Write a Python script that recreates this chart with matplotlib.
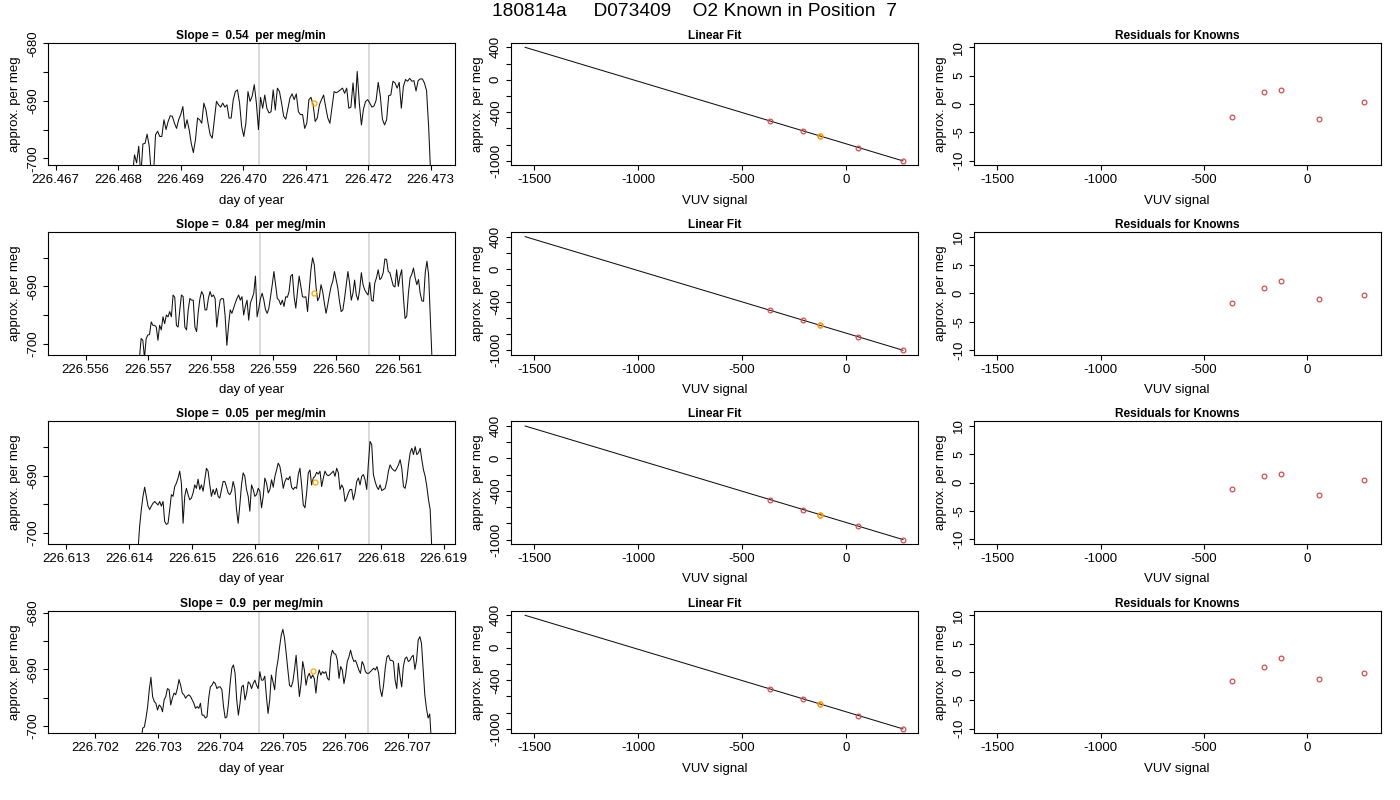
import numpy as np
import matplotlib.pyplot as plt

plt.rcParams['font.family'] = ['Liberation Sans', 'DejaVu Sans']

title = '180814a     D073409    O2 Known in Position  7'
slopes = ['0.54', '0.84', '0.05', '0.9']

# time window of each trace (day of year)
t_start = [226.46823, 226.55686, 226.61414, 226.70273]
t_end = [226.47300, 226.56153, 226.61881, 226.70738]
x_lims = [(226.46688, 226.47338), (226.55540, 226.56189),
          (226.61271, 226.61917), (226.70124, 226.70775)]
y_lims = [(-701.2, -679.9), (-701.9, -680.5), (-701.9, -680.5), (-701.3, -679.6)]
x_ticks = [[226.467, 226.468, 226.469, 226.470, 226.471, 226.472, 226.473],
           [226.556, 226.557, 226.558, 226.559, 226.560, 226.561],
           [226.613, 226.614, 226.615, 226.616, 226.617, 226.618, 226.619],
           [226.702, 226.703, 226.704, 226.705, 226.706, 226.707]]
marks = [(226.47026, 226.47202), (226.55878, 226.56053),
         (226.61607, 226.61781), (226.70462, 226.70637)]
unknown_t = [226.47113, 226.55965, 226.61695, 226.70549]
unknown_y = [-690.46, -691.2, -691.05, -690.35]

trace_1 = [-703, -699.4, -700.8, -697.9, -703, -697.5, -697.4, -695.8, -697.9, -703, -703, -695.9,
           -695.3, -696.2, -696.2, -693.3, -695.0, -693.6, -692.6, -692.7, -693.9, -694.8, -693.3,
           -692.4, -691.0, -694.8, -693.3, -695.0, -697.4, -699.0, -696.8, -693.0, -693.3, -693.9,
           -690.4, -691.6, -693.9, -695.9, -696.5, -693.3, -690.1, -690.7, -691.1, -690.4, -691.1,
           -690.7, -693.0, -693.0, -689.8, -688.4, -688.1, -690.4, -694.5, -696.2, -693.9, -688.4,
           -690.1, -689.2, -687.2, -690.4, -695.0, -689.4, -691.3, -689.0, -691.3, -692.1, -691.9,
           -688.1, -691.6, -687.8, -688.4, -690.4, -692.7, -693.2, -691.3, -689.5, -688.8, -689.8,
           -688.8, -691.9, -692.4, -692.4, -694.8, -693.9, -689.8, -689.4, -690.7, -693.6, -693.0,
           -690.7, -689.8, -689.0, -691.1, -693.0, -693.9, -691.1, -688.4, -688.6, -688.4, -688.1,
           -687.8, -688.7, -687.8, -691.3, -691.1, -686.9, -691.3, -684.9, -690.4, -694.2, -691.4,
           -690.1, -689.8, -690.4, -691.1, -690.9, -689.9, -686.8, -689.2, -693.2, -694.2, -693.3,
           -689.1, -689.0, -686.6, -686.9, -687.8, -686.8, -691.3, -687.5, -686.3, -686.6, -686.1,
           -686.6, -686.5, -688.3, -686.5, -686.2, -686.2, -686.9, -688.2, -694.5, -703]
trace_2 = [-702.5, -699.1, -699.4, -702.5, -699.1, -698.5, -698.4, -696.2, -696.8, -696.8, -697.1,
           -699.4, -696.8, -697.6, -695.3, -696.5, -695.0, -695.3, -694.4, -695.3, -691.5, -691.9,
           -696.8, -697.1, -694.1, -691.5, -691.8, -697.1, -697.6, -694.1, -692.1, -692.4, -692.4,
           -697.1, -697.9, -694.4, -692.1, -690.9, -691.5, -694.1, -694.1, -692.1, -690.9, -691.8,
           -691.5, -692.1, -697.1, -694.4, -692.4, -692.1, -692.2, -695.3, -700.3, -696.8, -694.1,
           -694.7, -693.8, -692.9, -692.1, -691.5, -692.4, -691.8, -695.0, -693.5, -692.4, -695.9,
           -692.9, -692.1, -691.2, -688.2, -695.3, -693.8, -692.1, -691.2, -692.4, -694.1, -694.7,
           -693.8, -691.8, -689.7, -687.4, -689.7, -692.1, -692.4, -693.2, -692.4, -693.5, -691.8,
           -691.9, -690.9, -688.2, -687.9, -691.8, -693.8, -690.9, -688.2, -690.0, -691.8, -691.9,
           -691.8, -694.4, -690.6, -687.1, -685.0, -686.2, -690.0, -692.5, -691.9, -689.7, -690.9,
           -692.9, -694.7, -693.2, -691.5, -690.0, -689.1, -687.4, -688.8, -690.3, -692.6, -694.4,
           -694.1, -692.1, -689.7, -687.4, -689.4, -692.4, -691.2, -688.9, -691.5, -692.4, -690.6,
           -687.6, -689.7, -690.6, -691.1, -691.5, -689.3, -692.4, -692.6, -689.4, -688.5, -687.1,
           -688.8, -688.5, -687.6, -685.2, -685.3, -687.4, -687.6, -688.8, -689.9, -690.1, -687.1,
           -690.0, -688.2, -687.1, -691.8, -695.6, -695.2, -691.2, -688.5, -687.9, -686.8, -688.5,
           -689.7, -688.8, -691.2, -692.5, -692.6, -687.6, -685.6, -687.9, -695.3, -702.5]
trace_3 = [-703, -698.8, -695.9, -693.6, -692.0, -693.6, -695.3, -695.9, -695.3, -694.8, -694.5,
           -694.8, -695.1, -694.5, -695.3, -694.5, -698.0, -698.5, -698.3, -695.9, -693.3, -693.6,
           -691.9, -691.3, -690.4, -689.2, -691.3, -698.3, -693.6, -692.2, -693.3, -694.2, -693.9,
           -693.0, -691.6, -692.2, -690.6, -692.4, -691.6, -692.7, -690.7, -688.7, -689.2, -691.6,
           -693.6, -692.4, -693.3, -692.2, -693.6, -693.9, -692.4, -691.0, -691.0, -691.9, -693.0,
           -693.3, -692.7, -691.0, -692.2, -695.9, -698.3, -695.1, -691.6, -689.5, -690.1, -692.4,
           -693.6, -696.2, -691.6, -692.4, -693.6, -693.3, -692.2, -692.7, -695.6, -693.6, -690.4,
           -691.3, -693.0, -692.4, -690.7, -692.0, -690.1, -689.0, -687.8, -688.4, -690.1, -692.2,
           -691.0, -690.4, -690.7, -690.1, -692.0, -692.4, -692.0, -692.2, -689.8, -688.7, -691.6,
           -695.1, -695.6, -693.0, -689.5, -689.0, -691.6, -690.4, -690.1, -689.4, -689.7, -689.2,
           -691.9, -690.4, -689.2, -689.8, -690.0, -689.8, -689.5, -689.2, -690.1, -688.7, -689.5,
           -692.4, -691.6, -692.2, -694.5, -693.9, -693.0, -692.4, -692.4, -694.2, -693.0, -691.0,
           -690.4, -691.6, -690.1, -689.8, -690.7, -692.4, -687.8, -684.0, -684.6, -689.8, -691.0,
           -691.9, -692.4, -691.6, -692.6, -692.4, -692.2, -691.0, -689.2, -688.1, -688.7, -689.0,
           -689.2, -688.7, -688.1, -687.2, -688.7, -691.9, -692.2, -690.7, -688.1, -686.0, -685.2,
           -686.3, -684.9, -686.3, -686.0, -685.2, -687.2, -689.0, -690.1, -691.9, -694.2, -695.9,
           -703]
trace_4 = [-703, -700.4, -700.2, -698.6, -696.6, -693.6, -691.4, -694.8, -695.7, -696.0, -697.2,
           -696.3, -696.6, -697.5, -695.4, -694.8, -693.4, -693.6, -696.3, -695.1, -694.2, -694.5,
           -693.4, -691.8, -692.8, -694.2, -694.5, -695.1, -694.7, -694.5, -694.8, -695.4, -696.0,
           -696.9, -696.6, -696.9, -696.0, -698.1, -698.1, -698.6, -698.4, -695.1, -693.1, -692.8,
           -692.2, -692.5, -693.4, -693.1, -693.1, -693.6, -696.6, -698.6, -698.4, -696.0, -692.5,
           -689.8, -689.2, -690.7, -695.4, -698.1, -696.0, -693.1, -692.8, -695.4, -694.2, -692.2,
           -692.5, -693.4, -692.5, -691.9, -692.8, -693.4, -690.4, -691.9, -691.9, -691.2, -694.8,
           -697.8, -695.4, -691.0, -692.2, -693.6, -690.1, -688.4, -686.0, -683.9, -682.9, -684.5,
           -687.2, -690.1, -692.8, -693.1, -692.2, -690.1, -687.5, -691.3, -694.8, -692.5, -688.6,
           -690.1, -692.8, -691.3, -690.7, -691.6, -691.0, -691.6, -694.2, -691.3, -690.1, -691.0,
           -690.4, -690.7, -690.4, -691.6, -691.9, -687.8, -686.6, -687.2, -687.3, -688.4, -691.6,
           -689.5, -690.1, -692.5, -691.0, -688.6, -687.8, -686.6, -687.8, -688.6, -688.4, -689.2,
           -690.1, -690.7, -688.6, -689.2, -690.4, -690.7, -690.7, -690.4, -690.1, -689.8, -690.1,
           -689.5, -690.7, -693.6, -694.8, -692.8, -689.8, -687.8, -687.5, -688.4, -688.4, -688.6,
           -691.9, -693.4, -688.9, -691.3, -693.1, -689.5, -688.1, -687.8, -688.6, -688.4, -687.8,
           -687.5, -690.0, -688.4, -684.8, -684.2, -685.4, -690.1, -694.5, -696.9, -698.6, -697.9,
           -703]
traces = [trace_1, trace_2, trace_3, trace_4]

# knowns: VUV signal vs assigned per meg value
vuv = [-366, -208, -126, 58, 274]
per_meg = [-508, -630, -693, -835, -1000]
unknown_idx = 2
fit_x = [-1543, 274]
fit_y = [400, -1000]
resid_1 = [-2.24, 2.17, 2.40, -2.70, 0.35]
resid_2 = [-1.76, 0.99, 2.15, -1.06, -0.35]
resid_3 = [-1.15, 1.15, 1.47, -2.17, 0.51]
resid_4 = [-1.66, 0.83, 2.49, -1.28, -0.26]
resids = [resid_1, resid_2, resid_3, resid_4]

W, H = 1400, 800
fig = plt.figure(figsize=(14, 8), dpi=100)
fig.text(694 / W, 1 - 12 / H, title, ha='center', va='center', fontsize=13.8)

col_left = [48, 511, 974]
red = '#CD4F4F'
orange = '#FFA500'
fs = 9.5
tfs = 8.6


def make_ax(row, col):
    top = 42.7 + row * 189.33
    ax = fig.add_axes([col_left[col] / W, 1 - (top + 122.5) / H, 406.5 / W, 122.5 / H])
    ax.tick_params(direction='out', length=3.5, width=0.8, labelsize=fs, pad=3)
    ax.tick_params(axis='y', labelrotation=90)
    for s in ax.spines.values():
        s.set_linewidth(0.8)
    return ax


def rot_labels(ax):
    for lab in ax.get_yticklabels():
        lab.set_va('center')


for r in range(4):
    # time series
    ax = make_ax(r, 0)
    y = np.array(traces[r])
    t = np.linspace(t_start[r], t_end[r], len(y))
    ax.axvline(marks[r][0], color='#D3D3D3', lw=1.2)
    ax.axvline(marks[r][1], color='#D3D3D3', lw=1.2)
    ax.plot(t, y, color='#111111', lw=0.75)
    ax.plot(unknown_t[r], unknown_y[r], 'o', mfc='none', mec=orange, ms=3.6, mew=0.9)
    ax.set_xlim(x_lims[r])
    ax.set_ylim(y_lims[r])
    ax.set_xticks(x_ticks[r])
    ax.set_xticklabels(['%.3f' % v for v in x_ticks[r]])
    yt = [v for v in [-700, -695, -690, -685, -680] if y_lims[r][0] <= v <= y_lims[r][1]]
    ax.set_yticks(yt)
    ax.set_yticklabels([str(v) if v % 10 == 0 else '' for v in yt])
    rot_labels(ax)
    ax.set_title('Slope =  %s  per meg/min' % slopes[r], fontsize=tfs, fontweight='bold', pad=3)
    ax.set_xlabel('day of year', fontsize=fs, labelpad=6)
    ax.set_ylabel('approx. per meg', fontsize=fs, labelpad=4)

    # linear fit
    ax = make_ax(r, 1)
    ax.plot(fit_x, fit_y, color='#111111', lw=0.75)
    ax.plot(vuv, per_meg, 'o', mfc='none', mec=red, ms=3.4, mew=0.9)
    ax.plot(vuv[unknown_idx], per_meg[unknown_idx], 'o', mfc='none', mec=orange, ms=3.4, mew=1)
    ax.set_xlim(-1611, 344)
    ax.set_ylim(-1053, 457)
    ax.set_xticks([-1500, -1000, -500, 0])
    ax.set_xticklabels(['-1500', '-1000', '-500', '0'])
    yt = [400, 200, 0, -200, -400, -600, -800, -1000]
    ax.set_yticks(yt)
    ax.set_yticklabels([str(v) if v in (400, 0, -400, -1000) else '' for v in yt])
    rot_labels(ax)
    ax.set_title('Linear Fit', fontsize=tfs, fontweight='bold', pad=3)
    ax.set_xlabel('VUV signal', fontsize=fs, labelpad=6)
    ax.set_ylabel('approx. per meg', fontsize=fs, labelpad=4)

    # residuals
    ax = make_ax(r, 2)
    ax.plot(vuv, resids[r], 'o', mfc='none', mec=red, ms=3.4, mew=0.9)
    ax.set_xlim(-1613, 355)
    ax.set_ylim(-10.8, 10.8)
    ax.set_xticks([-1500, -1000, -500, 0])
    ax.set_xticklabels(['-1500', '-1000', '-500', '0'])
    ax.set_yticks([10, 5, 0, -5, -10])
    ax.set_yticklabels(['10', '5', '0', '-5', '-10'])
    rot_labels(ax)
    ax.set_title('Residuals for Knowns', fontsize=tfs, fontweight='bold', pad=3)
    ax.set_xlabel('VUV signal', fontsize=fs, labelpad=6)
    ax.set_ylabel('approx. per meg', fontsize=fs, labelpad=4)

fig.savefig('out.png', dpi=100)
